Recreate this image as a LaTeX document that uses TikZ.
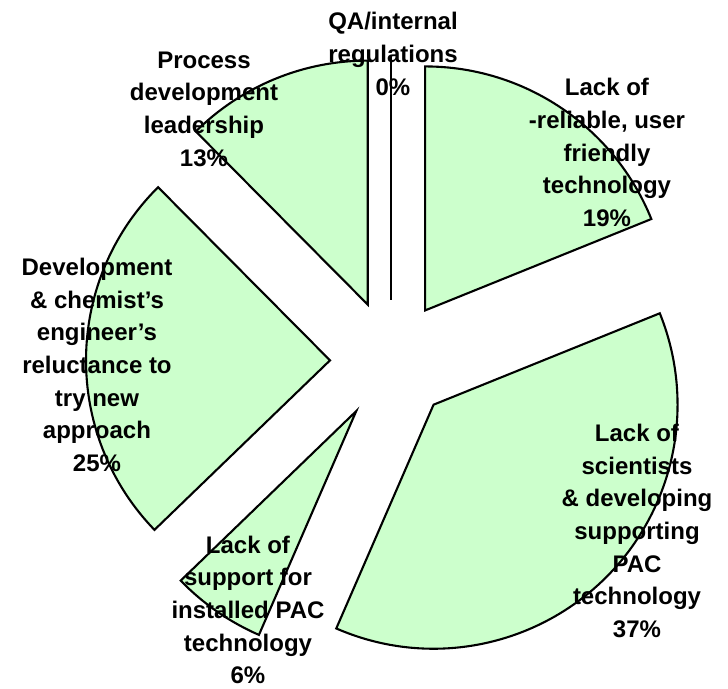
\documentclass[tikz,border=0pt]{standalone}
\usepackage{fontspec}
\setmainfont{Liberation Sans}
\definecolor{slicegreen}{RGB}{204,255,204}

\begin{document}
\begin{tikzpicture}[x=1pt,y=1pt,
    lbl/.style={align=center,inner sep=0pt,
      font=\bfseries\fontsize{24}{32.7}\selectfont}]
    \useasboundingbox (-391,-327) rectangle (337,361);
    \newcommand\pieslice[3]{
      \coordinate (#3) at ({(#1+#2)/2}:61pt);
      \filldraw[fill=slicegreen,line width=2.1pt] (#3) -- ++(#1:244pt)
      arc[start angle=#1,end angle=#2,radius=244pt] -- cycle;
    }
    \pieslice{22}{90}{reliable};
    \pieslice{-113.5}{22}{scientists};
    \pieslice{-136}{-113.5}{support};
    \pieslice{134.8}{224}{develop};
    \pieslice{90}{134.8}{process};
    \coordinate (qa) at (90:61pt);
    \coordinate (qatop) at (90:305pt);
    \draw[line width=2.1pt] (qa) -- (qatop);
    % labels
    \node[lbl] (qalbl) at (2,307) {QA/internal\\regulations\\0\%};
    \node[lbl] (processlbl) at (-187,252) {Process\\development\\leadership\\13\%};
    \node[lbl] (reliablelbl) at (216,208.5) {Lack of\\-reliable, user\\friendly\\technology\\19\%};
    \node[lbl] (developlbl) at (-294,-4) {Development\\\& chemist’s\\engineer’s\\reluctance to\\try new\\approach\\25\%};
    \node[lbl] (supportlbl) at (-143,-249) {Lack of\\support for\\installed PAC\\technology\\6\%};
    \node[lbl] (scientistslbl) at (246,-170) {Lack of\\scientists\\\& developing\\supporting\\PAC\\technology\\37\%};
  \end{tikzpicture}
\end{document}
